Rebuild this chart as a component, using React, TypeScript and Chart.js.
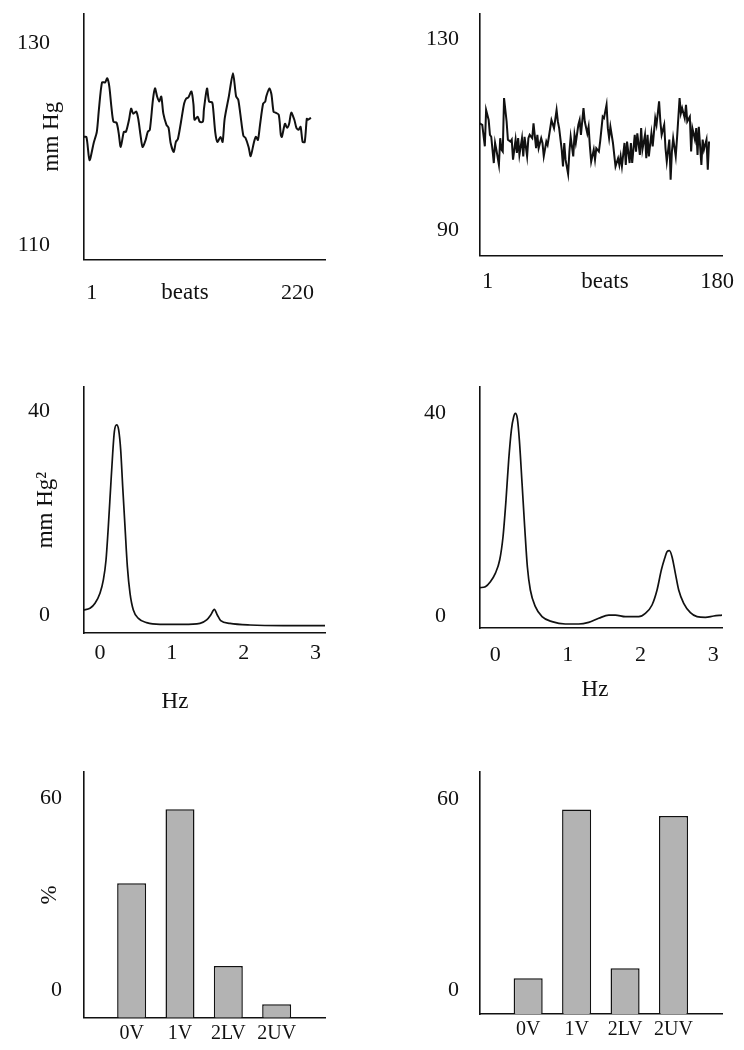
import React, { useEffect, useRef } from "react";
import { Chart, registerables } from "chart.js";

Chart.register(...registerables);

const FONT = '"Liberation Serif", "Times New Roman", serif';
const INK = "#111111";
const BAR_FILL = "#b3b3b3";

// ---- Top left: blood pressure, 220 beats ----
const BEATS_LEFT = [
  1, 4, 7, 11, 14, 16, 19, 22, 24, 26,
  28, 30, 33, 35, 37, 40, 42, 45, 47, 49,
  52, 54, 56, 58, 61, 63, 65, 68, 70, 72,
  74, 76, 78, 81, 83, 85, 88, 90, 92, 95,
  98, 100, 102, 105, 107, 108, 111, 113, 116, 117,
  120, 122, 125, 126, 128, 130, 133, 135, 137, 141,
  145, 148, 150, 152, 155, 157, 160, 162, 165, 167,
  169, 171, 174, 176, 177, 180, 182, 184, 186, 189,
  191, 192, 195, 197, 199, 201, 204, 206, 208, 210,
  212, 214, 216, 217, 220,
];
const BP_LEFT = [
  120.7, 120.7, 118.4, 120.1, 121.2, 123.4, 126.1, 126.1, 126.5, 125.7,
  123.7, 122.2, 122.1, 121.1, 119.7, 121.2, 121.2, 122.4, 123.5, 123.0,
  123.2, 122.4, 120.9, 119.7, 120.4, 121.2, 121.4, 124.4, 125.5, 124.7,
  124.2, 124.7, 123.0, 121.9, 121.6, 120.1, 119.2, 120.2, 120.5, 122.2,
  124.0, 124.5, 124.6, 125.2, 123.9, 122.4, 122.7, 122.2, 122.2, 123.4,
  125.5, 124.2, 124.1, 123.4, 121.1, 120.2, 120.7, 120.2, 122.5, 124.7,
  127.0, 124.7, 124.4, 123.0, 120.8, 120.6, 119.7, 118.8, 120.1, 120.7,
  120.4, 121.9, 124.0, 124.2, 124.7, 125.5, 124.9, 123.2, 123.1, 122.9,
  120.9, 120.7, 122.0, 121.6, 122.0, 123.1, 122.4, 121.6, 121.4, 121.7,
  120.2, 120.2, 122.5, 122.4, 122.6,
];

// ---- Top right: blood pressure, 180 beats ----
const BEATS_RIGHT = [
  1, 3, 5, 6, 8, 9, 10, 12, 13, 14,
  16, 17, 18, 19, 20, 22, 23, 25, 26, 27,
  29, 30, 31, 32, 34, 35, 36, 38, 39, 40,
  42, 43, 45, 46, 47, 49, 50, 51, 53, 54,
  55, 57, 59, 61, 62, 63, 65, 66, 67, 68,
  70, 71, 72, 74, 75, 76, 78, 79, 80, 82,
  83, 85, 86, 87, 88, 90, 91, 92,
  94, 95, 97, 98, 100, 101, 102, 103, 105, 106,
  107, 109, 110, 111, 112, 114, 115, 116, 118, 119,
  120, 122, 123, 124, 126, 127, 128, 130, 131, 132,
  133, 135, 136, 138, 139, 141, 142, 143, 145, 146,
  147, 149, 150, 151, 152, 154, 155, 157, 158, 159,
  161, 162, 163, 165, 166, 167, 169, 170, 171, 172,
  174, 175, 176, 178, 179, 180,
];
const BP_RIGHT = [
  112.3, 112.0, 107.5, 115.1, 113.0, 109.9, 109.5, 104.0, 108.2, 106.8,
  103.6, 109.2, 106.8, 106.4, 117.6, 112.7, 108.9, 108.5, 108.9, 104.7,
  108.9, 106.1, 109.2, 105.7, 109.2, 105.4, 109.5, 105.4, 109.2, 109.9,
  109.2, 112.3, 107.1, 109.9, 107.1, 109.2, 108.2, 105.4, 108.5, 107.8,
  109.5, 113.0, 111.3, 115.1, 112.7, 111.3, 106.8, 103.3, 108.2, 104.7,
  101.7, 106.4, 109.5, 105.4, 109.9, 108.2, 112.0, 113.0, 109.9, 115.5,
  112.7, 110.2, 111.6, 107.5, 104.3, 106.8, 104.7, 107.1,
  106.4, 108.5, 113.7, 113.4, 116.2, 111.3, 109.2, 111.6, 108.2, 105.7,
  103.3, 105.0, 103.6, 105.4, 103.3, 108.2, 103.6, 108.5, 104.0, 108.2,
  104.0, 109.9, 106.4, 110.2, 105.7, 111.3, 106.8, 109.9, 105.0, 109.9,
  105.4, 110.2, 107.5, 113.4, 112.0, 116.9, 112.7, 109.9, 112.0, 107.1,
  104.3, 108.9, 100.5, 106.4, 109.2, 105.4, 109.2, 117.6, 114.4, 115.5,
  113.4, 116.2, 112.7, 113.7, 106.4, 111.3, 108.9, 111.3, 105.7, 111.6,
  103.6, 108.9, 106.8, 108.9, 102.6, 108.5,
];

// ---- Middle: power spectra ----
const HZ_LEFT = [
  -0.23, -0.138, -0.068, 0.001, 0.048, 0.085, 0.117, 0.15, 0.178, 0.201,
  0.233, 0.261, 0.289, 0.317, 0.349, 0.382, 0.419, 0.465, 0.535, 0.65,
  0.836, 1.16, 1.392, 1.485, 1.541, 1.592, 1.633, 1.68, 1.809, 2.088,
  2.551, 3.131,
];
const PSD_LEFT = [
  4.58, 4.91, 5.9, 7.86, 10.49, 14.42, 20.98, 28.85, 35.41, 39.67,
  40.98, 40.0, 36.07, 28.85, 20.98, 13.11, 7.86, 4.58, 2.94, 2.09,
  1.76, 1.76, 1.96, 2.62, 3.6, 4.72, 3.6, 2.49, 1.96, 1.63,
  1.5, 1.5,
];
const HZ_RIGHT = [
  -0.212, -0.135, -0.066, 0.002, 0.062, 0.108, 0.149, 0.186, 0.223, 0.255,
  0.278, 0.305, 0.333, 0.37, 0.406, 0.443, 0.484, 0.553, 0.645, 0.783,
  0.966, 1.15, 1.287, 1.425, 1.563, 1.654, 1.792, 1.976, 2.067, 2.159,
  2.228, 2.287, 2.333, 2.365, 2.398, 2.434, 2.48, 2.526, 2.595, 2.687,
  2.778, 2.893, 3.008, 3.122,
];
const PSD_RIGHT = [
  8.02, 8.22, 9.2, 10.85, 13.48, 18.08, 25.32, 33.21, 39.13, 41.76,
  42.42, 41.43, 37.16, 28.61, 20.06, 12.16, 7.56, 4.27, 2.3, 1.31,
  0.85, 0.85, 1.18, 1.97, 2.62, 2.62, 2.3, 2.3, 2.95, 4.6,
  7.56, 11.5, 13.81, 15.12, 15.32, 14.14, 10.85, 7.56, 4.93, 3.08,
  2.3, 2.16, 2.43, 2.62,
];

// ---- Bottom: percentages ----
const CATEGORIES = ["0V", "1V", "2LV", "2UV"];
const PCT_LEFT = [42.1, 65.2, 16.2, 4.2];
const PCT_RIGHT = [11.2, 64.2, 14.4, 62.2];

// ---- Tick values ----
const TICKS_BEATS_LEFT = [1, 220];
const TICKS_BEATS_RIGHT = [1, 180];
const TICKS_BP_LEFT = [110, 130];
const TICKS_BP_RIGHT = [90, 130];
const TICKS_HZ = [0, 1, 2, 3];
const TICKS_PSD = [0, 40];
const TICKS_PCT = [0, 60];
const TICKS_CAT = [0, 1, 2, 3];

const captionPlugin = {
  id: "caption",
  afterDraw(chart: any, _args: any, opts: any) {
    if (!opts || !opts.text) return;
    const { ctx, chartArea } = chart;
    ctx.save();
    ctx.font = `${opts.size || 23}px ${FONT}`;
    ctx.fillStyle = INK;
    ctx.textAlign = "center";
    ctx.textBaseline = "middle";
    ctx.fillText(opts.text, chartArea.left + opts.dx, chartArea.bottom + opts.dy);
    ctx.restore();
  },
};

function fixSize(prop: "width" | "height", size: number) {
  return (scale: any) => {
    scale[prop] = size;
    scale.paddingLeft = 0;
    scale.paddingRight = 0;
    scale.paddingTop = 0;
    scale.paddingBottom = 0;
  };
}
function setTicks(values: number[]) {
  return (scale: any) => {
    scale.ticks = values.map((value) => ({ value }));
  };
}

type Spec = {
  key: string;
  page: [number, number, number, number];
  area: [number, number, number, number];
  kind: "line" | "bar";
  xs: number[];
  ys: number[];
  xMin: number;
  xMax: number;
  xTicks: number[];
  xLabels?: string[];
  xFont: number;
  xPad: number;
  xAlign: "center" | "inner";
  xLabelOffset: number;
  yMin: number;
  yMax: number;
  yTicks: number[];
  yPad: number;
  yLabelOffset: number;
  yTitle?: string;
  yTitleX?: number;
  caption?: { text: string; dx: number; dy: number };
  lineWidth?: number;
  tension?: number;
  monotone?: boolean;
};

const SPECS: Spec[] = [
  {
    key: "a", page: [0, 0, 372, 330], area: [83.3, 14, 325, 259.3], kind: "line",
    xs: BEATS_LEFT, ys: BP_LEFT, xMin: 1, xMax: 233.5, xTicks: TICKS_BEATS_LEFT,
    xFont: 22, xPad: 20.8, xAlign: "inner", xLabelOffset: 3,
    yMin: 108.58, yMax: 132.87, yTicks: TICKS_BP_LEFT, yPad: 33.3, yLabelOffset: 0,
    yTitle: "mm Hg", yTitleX: 52, caption: { text: "beats", dx: 101.7, dy: 33.7 },
    lineWidth: 2, tension: 0.25,
  },
  {
    key: "b", page: [372, 0, 372, 330], area: [479.7, 14, 722, 255.7], kind: "line",
    xs: BEATS_RIGHT, ys: BP_RIGHT, xMin: 1, xMax: 190.1, xTicks: TICKS_BEATS_RIGHT,
    xFont: 22.5, xPad: 12.8, xAlign: "center", xLabelOffset: 8,
    yMin: 84.6, yMax: 135.2, yTicks: TICKS_BP_RIGHT, yPad: 20.7, yLabelOffset: 0,
    caption: { text: "beats", dx: 125.3, dy: 26.3 },
    lineWidth: 2, tension: 0,
  },
  {
    key: "c", page: [0, 360, 372, 360], area: [83.3, 386.7, 325, 633.3], kind: "line",
    xs: HZ_LEFT, ys: PSD_LEFT, xMin: -0.231, xMax: 3.131, xTicks: TICKS_HZ,
    xFont: 22, xPad: 6.8, xAlign: "center", xLabelOffset: 0,
    yMin: 0, yMax: 48.5, yTicks: TICKS_PSD, yPad: 33.3, yLabelOffset: -18.3,
    yTitle: "mm Hg\u00B2", yTitleX: 46, caption: { text: "Hz", dx: 91.7, dy: 68.4 },
    lineWidth: 1.7, monotone: true,
  },
  {
    key: "d", page: [372, 360, 372, 360], area: [479.7, 386.7, 722, 628.3], kind: "line",
    xs: HZ_RIGHT, ys: PSD_RIGHT, xMin: -0.213, xMax: 3.122, xTicks: TICKS_HZ,
    xFont: 22, xPad: 13.8, xAlign: "center", xLabelOffset: 0,
    yMin: 0, yMax: 47.7, yTicks: TICKS_PSD, yPad: 33.7, yLabelOffset: -12.3,
    caption: { text: "Hz", dx: 115.3, dy: 61.7 },
    lineWidth: 1.7, monotone: true,
  },
  {
    key: "e", page: [0, 750, 372, 300], area: [83.3, 772.3, 325, 1017.7], kind: "bar",
    xs: TICKS_CAT, ys: PCT_LEFT, xMin: -1, xMax: 4, xTicks: TICKS_CAT, xLabels: CATEGORIES,
    xFont: 20, xPad: 3.6, xAlign: "center", xLabelOffset: 0,
    yMin: 0, yMax: 76.8, yTicks: TICKS_PCT, yPad: 21.3, yLabelOffset: -27.7,
    yTitle: "%", yTitleX: 50,
  },
  {
    key: "f", page: [372, 750, 372, 300], area: [479.7, 772.3, 722, 1014], kind: "bar",
    xs: TICKS_CAT, ys: PCT_RIGHT, xMin: -1, xMax: 4, xTicks: TICKS_CAT, xLabels: CATEGORIES,
    xFont: 20, xPad: 3.3, xAlign: "center", xLabelOffset: 0,
    yMin: 0, yMax: 75.9, yTicks: TICKS_PCT, yPad: 20.7, yLabelOffset: -24,
  },
];

function buildConfig(s: Spec): any {
  const [cl, ct, cw, ch] = s.page;
  const [al, at, ar, ab] = s.area;
  const yWidth = al - cl;
  const padTop = at - ct;
  const padRight = cl + cw - ar;
  const xHeight = ct + ch - ab;
  const points = s.xs.map((x, i) => ({ x, y: s.ys[i] }));
  const dataset =
    s.kind === "bar"
      ? {
          data: points,
          backgroundColor: BAR_FILL,
          borderColor: INK,
          borderWidth: 1.5,
          borderSkipped: "bottom",
          barPercentage: 0.6,
          categoryPercentage: 1,
        }
      : {
          data: points,
          borderColor: INK,
          borderWidth: s.lineWidth,
          pointRadius: 0,
          tension: s.tension || 0,
          cubicInterpolationMode: s.monotone ? "monotone" : "default",
          fill: false,
        };
  const border = { display: true, color: INK, width: 1.6 };
  const grid = { display: false, drawTicks: false };
  return {
    type: s.kind,
    data: { datasets: [dataset] },
    options: {
      responsive: false,
      animation: false,
      events: [],
      layout: { autoPadding: false, padding: { left: 0, top: padTop, right: padRight, bottom: 0 } },
      plugins: {
        legend: { display: false },
        tooltip: { enabled: false },
        caption: s.caption ? { ...s.caption, size: 23 } : {},
      },
      scales: {
        x: {
          type: "linear",
          position: "bottom",
          min: s.xMin,
          max: s.xMax,
          offset: false,
          grid,
          border,
          afterBuildTicks: setTicks(s.xTicks),
          afterFit: fixSize("height", xHeight),
          ticks: {
            autoSkip: false,
            maxRotation: 0,
            minRotation: 0,
            color: INK,
            font: { family: FONT, size: s.xFont },
            padding: s.xPad,
            align: s.xAlign,
            labelOffset: s.xLabelOffset,
            callback: (v: number) => (s.xLabels ? s.xLabels[v] : String(v)),
          },
        },
        y: {
          type: "linear",
          position: "left",
          min: s.yMin,
          max: s.yMax,
          grid,
          border,
          afterBuildTicks: setTicks(s.yTicks),
          afterFit: fixSize("width", yWidth),
          ticks: {
            autoSkip: false,
            color: INK,
            font: { family: FONT, size: 22 },
            padding: s.yPad,
            labelOffset: s.yLabelOffset,
            callback: (v: number) => String(v),
          },
          title: s.yTitle
            ? {
                display: true,
                text: s.yTitle,
                color: INK,
                font: { family: FONT, size: 23 },
                padding: { top: (s.yTitleX || 0) - 13.8, bottom: 0 },
              }
            : { display: false },
        },
      },
    },
    plugins: [captionPlugin],
  };
}

function Panel({ spec }: { spec: Spec }) {
  const ref = useRef<HTMLCanvasElement | null>(null);
  useEffect(() => {
    if (!ref.current) return;
    const chart = new Chart(ref.current, buildConfig(spec));
    return () => chart.destroy();
  }, [spec]);
  const [l, t, w, h] = spec.page;
  return (
    <canvas
      ref={ref}
      width={w}
      height={h}
      style={{ position: "absolute", left: l, top: t, width: w, height: h }}
    />
  );
}

export default function App() {
  return (
    <div
      style={{
        position: "absolute",
        left: 0,
        top: 0,
        width: 744,
        height: 1050,
        background: "#ffffff",
        overflow: "hidden",
      }}
    >
      {SPECS.map((s) => (
        <Panel key={s.key} spec={s} />
      ))}
    </div>
  );
}
